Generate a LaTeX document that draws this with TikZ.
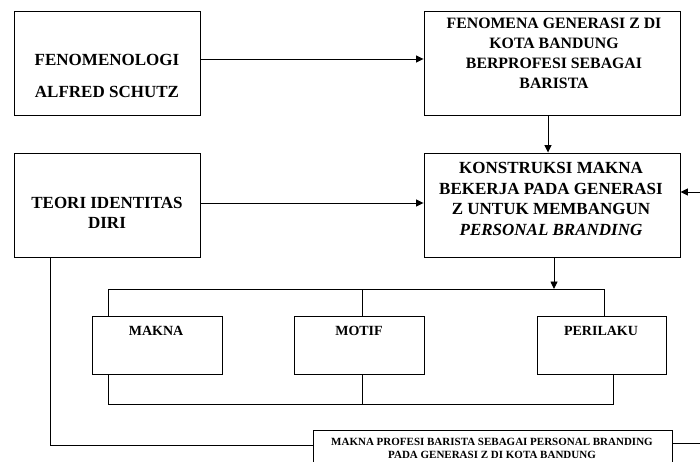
\documentclass[tikz,border=0pt]{standalone}
\usepackage{fontspec}
\setmainfont{Liberation Serif}
\usetikzlibrary{arrows.meta}
\tikzset{
  box/.style={draw=black, line width=0.9pt, rectangle, inner sep=0pt},
  bigbox/.style={box, minimum width=186pt, minimum height=104pt},
  widebox/.style={box, minimum width=256pt, minimum height=104pt},
  smallbox/.style={box, minimum width=130pt, minimum height=58pt},
  txt/.style={inner sep=0pt, align=center, font=\bfseries},
  ln/.style={line width=0.9pt, draw=black},
  arr/.style={ln, -{Triangle[length=7.5pt,width=7pt]}},
}
\begin{document}
\begin{tikzpicture}[x=1pt,y=-1pt]
\useasboundingbox (0,0) rectangle (700,462);
\clip (0,0) rectangle (700,462);
\fill[white] (0,0) rectangle (700,462);
% boxes
\node[bigbox] (b1) at (107,63) {};
\node[widebox] (b2) at (552,63) {};
\node[widebox] (b3) at (552,205) {};
\node[bigbox] (b4) at (107,205) {};
\node[smallbox] (mk) at (157,345) {};
\node[smallbox] (mt) at (359,345) {};
\node[smallbox, minimum width=129pt] (pr) at (601.5,345) {};
\node[box, minimum width=359pt, minimum height=60pt] (bt) at (492.5,460) {};
% texts
\node[txt, font=\bfseries\fontsize{17}{32}\selectfont] (t1) at (107,76) {FENOMENOLOGI\\ALFRED SCHUTZ};
\node[txt, font=\bfseries\fontsize{15.8}{20}\selectfont] (t2) at (554,53) {FENOMENA GENERASI Z DI\\KOTA BANDUNG\\BERPROFESI SEBAGAI\\BARISTA};
\node[txt, font=\bfseries\fontsize{17}{20.5}\selectfont] (t3) at (551,199) {KONSTRUKSI MAKNA\\BEKERJA PADA GENERASI\\Z UNTUK MEMBANGUN\\\textit{PERSONAL BRANDING}};
\node[txt, font=\bfseries\fontsize{17}{20}\selectfont] (t4) at (107,213) {TEORI IDENTITAS\\DIRI};
\node[txt, font=\bfseries\fontsize{14}{16}\selectfont] (t5) at (156,331) {MAKNA};
\node[txt, font=\bfseries\fontsize{14}{16}\selectfont] (t6) at (359,331) {MOTIF};
\node[txt, font=\bfseries\fontsize{14}{16}\selectfont] (t7) at (601,331) {PERILAKU};
\node[txt, font=\bfseries\fontsize{11}{13}\selectfont] (t8) at (492,448.5) {MAKNA PROFESI BARISTA SEBAGAI PERSONAL BRANDING\\PADA GENERASI Z DI KOTA BANDUNG};
% connectors
\draw[arr] ([yshift=4pt]b1.east) -- ([yshift=4pt]b1.east -| b2.west);
\draw[arr] ([yshift=2pt]b4.east) -- ([yshift=2pt]b4.east -| b3.west);
\draw[arr] ([xshift=-4pt]b2.south) -- ([xshift=-4pt]b3.north);
\coordinate (rin) at (700,192);
\draw[arr] (rin) -- (rin -| b3.east);
\coordinate (rout) at (700,443);
\draw[ln] (rout -| bt.east) -- (rout);
\coordinate (lc) at (50,445);
\draw[ln] (lc |- b4.south) -- (lc) -- (lc -| bt.west);
% frame
\coordinate (ftl) at (108,289);
\coordinate (ftr) at (604,289);
\coordinate (fbl) at (108,404);
\coordinate (fbr) at (613,404);
\coordinate (fm) at (362,289);
\coordinate (fmb) at (362,404);
\coordinate (fa) at (554,289);
\draw[ln] (ftl |- mk.north) -- (ftl) -- (ftr) -- (ftr |- pr.north);
\draw[ln] (fm) -- (fm |- mt.north);
\draw[ln] (fbl |- mk.south) -- (fbl) -- (fbr) -- (fbr |- pr.south);
\draw[ln] (fmb |- mt.south) -- (fmb);
\draw[arr] (fa |- b3.south) -- (fa);
\end{tikzpicture}
\end{document}
